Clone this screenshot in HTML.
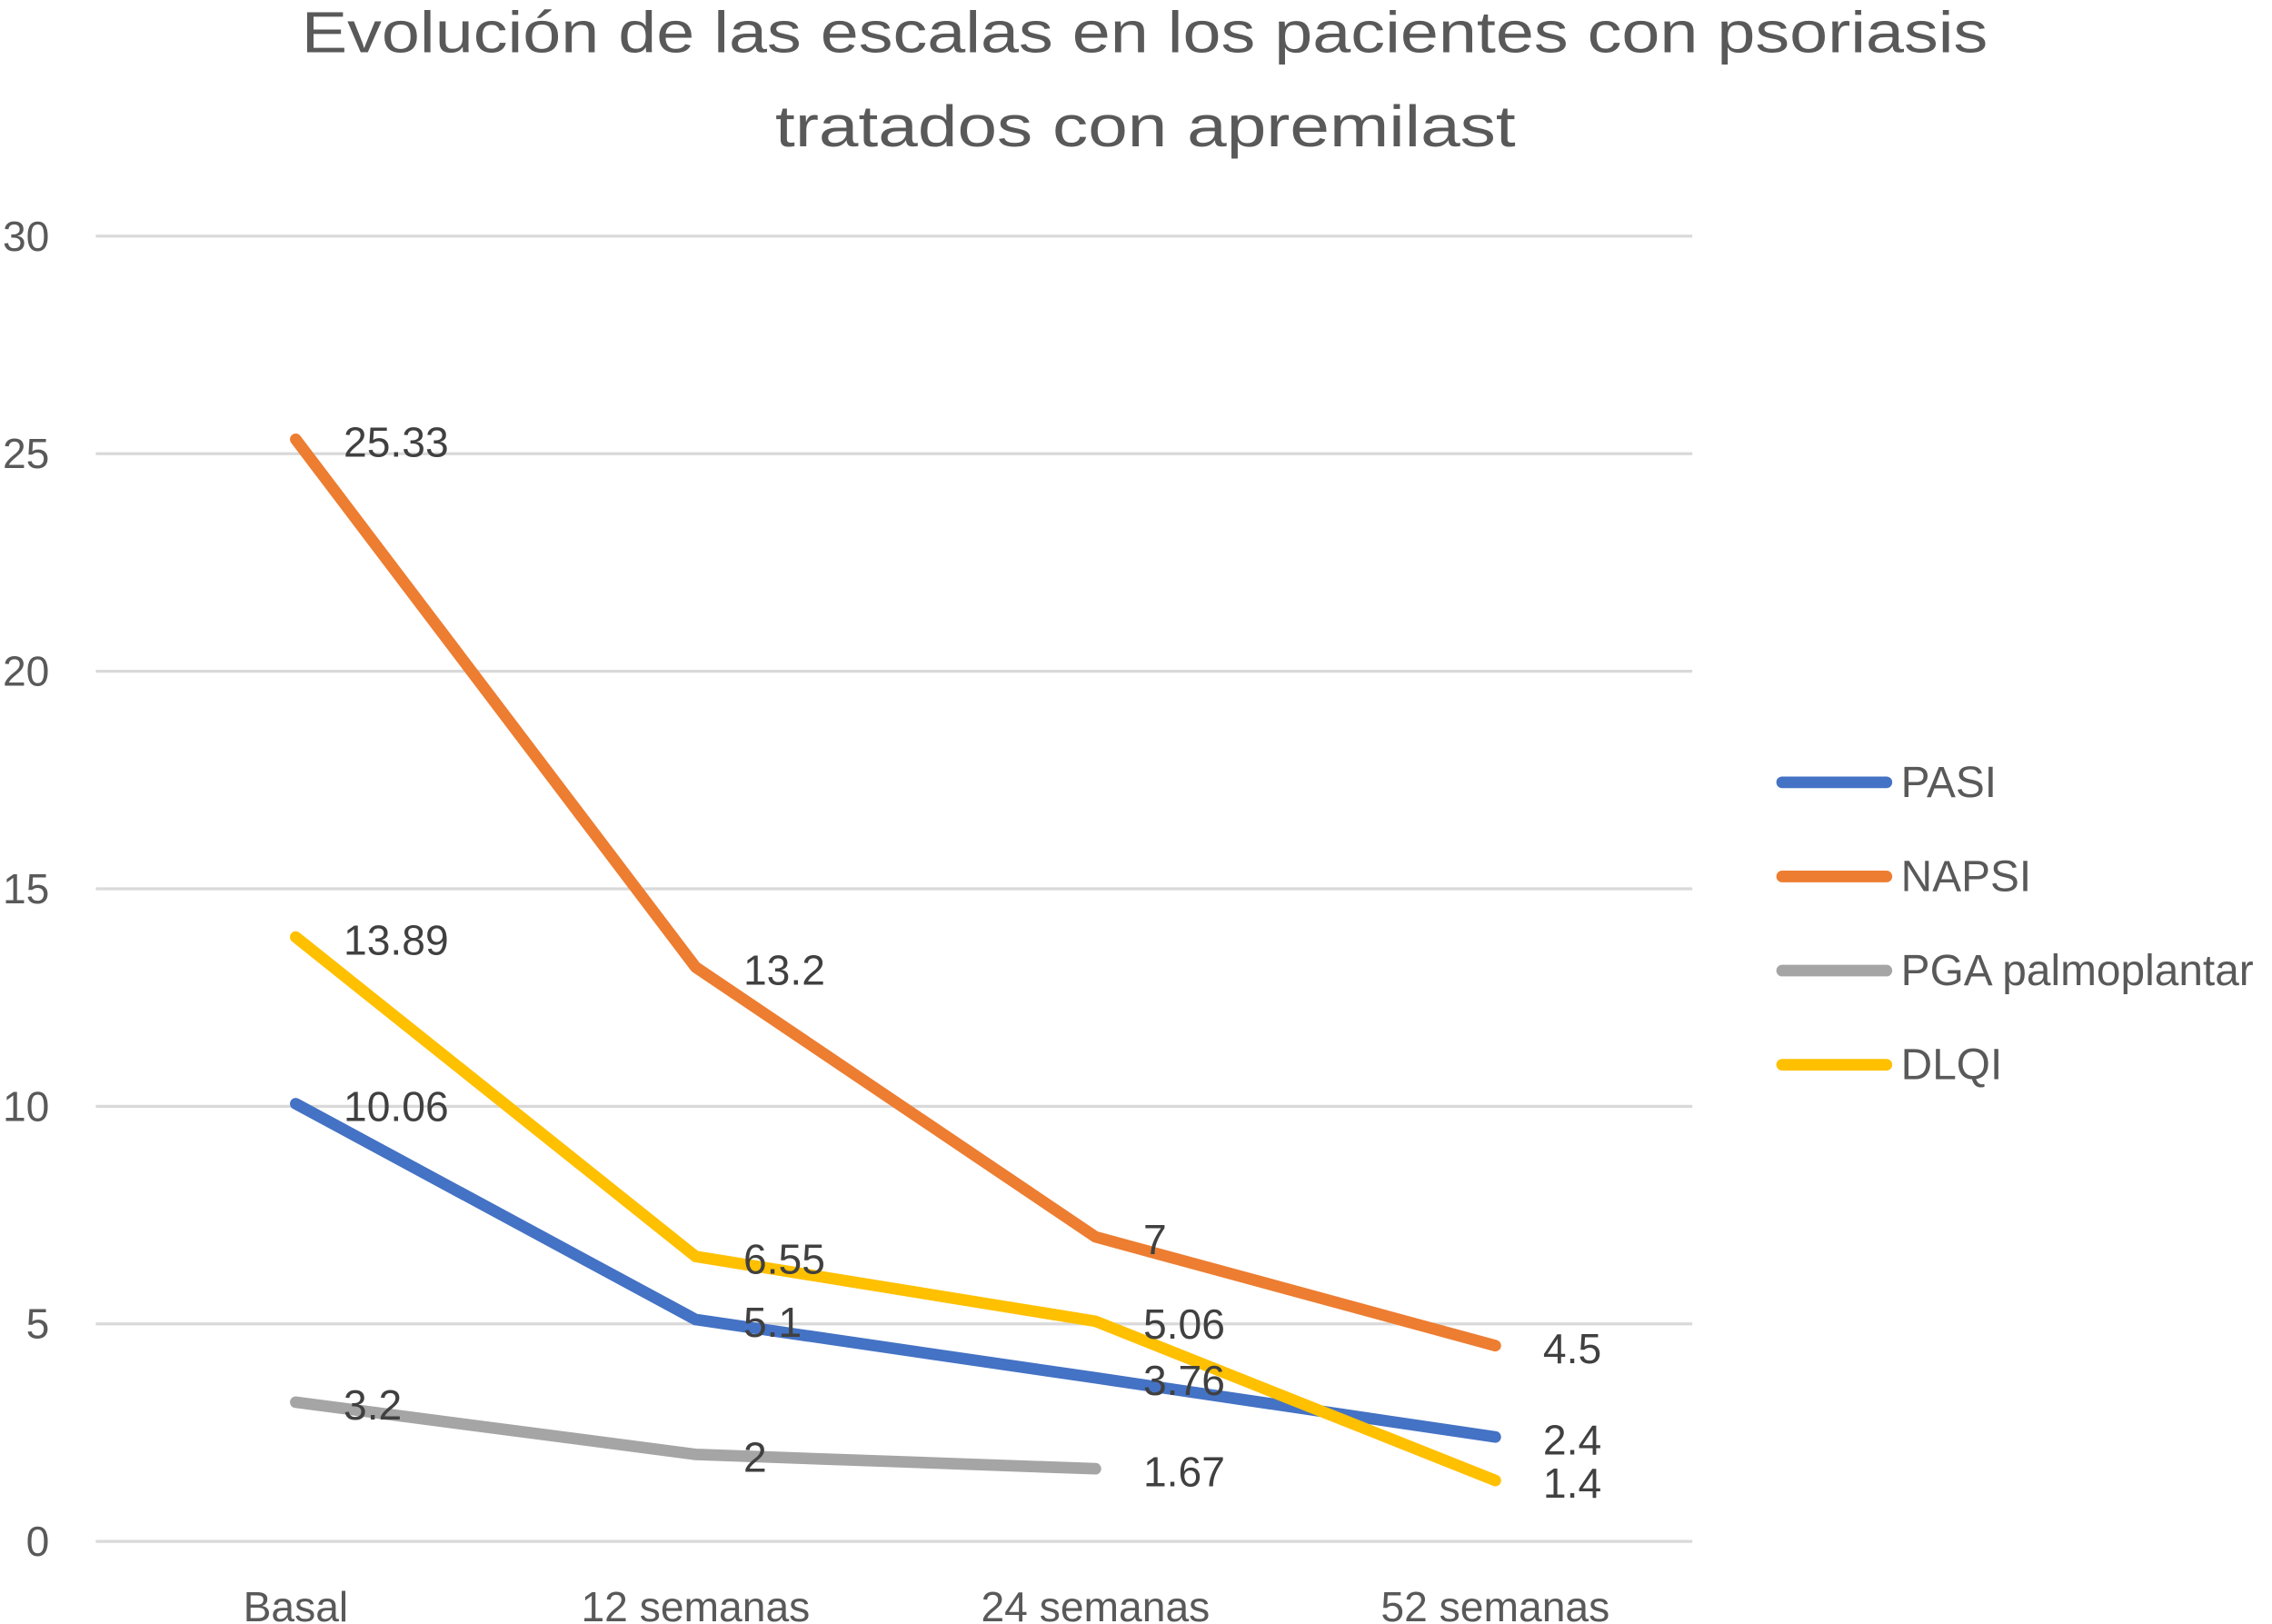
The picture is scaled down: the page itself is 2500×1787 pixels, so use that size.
<!DOCTYPE html>
<html><head><meta charset="utf-8"><style>
html,body{margin:0;padding:0;background:#fff}
svg{display:block;font-family:"Liberation Sans",sans-serif}
</style></head><body>
<svg id="chart" width="2500" height="1787" viewBox="0 0 1568 1121" xmlns="http://www.w3.org/2000/svg">
<g fill="#595959" font-size="40">
<text x="208" y="36" textLength="1164" lengthAdjust="spacingAndGlyphs">Evolución de las escalas en los pacientes con psoriasis</text>
<text x="535" y="101" textLength="511" lengthAdjust="spacingAndGlyphs">tratados con apremilast</text>
</g>
<g id="grid"></g><g id="series"></g><g id="legend"></g>
</svg>
<script>
const categories=["Basal","12 semanas","24 semanas","52 semanas"];
const yTicks=[0,5,10,15,20,25,30];
const seriesNames=["PASI","NAPSI","PGA palmoplantar","DLQI"];
const pasi=[10.06,5.1,3.76,2.4];
const napsi=[25.33,13.2,7,4.5];
const pga=[3.2,2,1.67,null];
const dlqi=[13.89,6.55,5.06,1.4];
const colors=["#4472C4","#ED7D31","#A5A5A5","#FFC000"];
const NS="http://www.w3.org/2000/svg";
const x=i=>204+i*276;
const y=v=>1064-v*(901/30);
function mk(t,a,p){const e=document.createElementNS(NS,t);for(const k in a)e.setAttribute(k,a[k]);p.appendChild(e);return e;}
const grid=document.getElementById('grid');
yTicks.forEach(v=>{
 const l=mk('line',{x1:66,x2:1168,y1:y(v),y2:y(v),stroke:'#d9d9d9','stroke-width':2},grid);
 
 
 const t=mk('text',{x:34,y:y(v)+10,'text-anchor':'end','font-size':29,fill:'#595959'},grid);
 t.textContent=v;
 
 
});
categories.forEach((c,i)=>{
 const t=mk('text',{x:x(i),y:1119,'text-anchor':'middle','font-size':29,fill:'#595959'},grid);
 t.textContent=c;
 
 
});
const data=[pasi,napsi,pga,dlqi];
const sg=document.getElementById('series');
data.forEach((d,s)=>{
 const pts=[];d.forEach((v,i)=>{if(v!==null)pts.push(x(i)+','+y(v));});
 const p=mk('polyline',{points:pts.join(' '),fill:'none',stroke:colors[s],'stroke-width':8,'stroke-linejoin':'round','stroke-linecap':'round'},sg);
 
 
});
data.forEach((d,s)=>{
 d.forEach((v,i)=>{if(v===null)return;
  const t=mk('text',{x:x(i)+33,y:y(v)+12,'font-size':29,fill:'#404040'},sg);
  t.textContent=v;
  
  
 });
});
const lg=document.getElementById('legend');
seriesNames.forEach((n,s)=>{
 const yy=540+s*65;
 const l=mk('line',{x1:1230,x2:1302,y1:yy,y2:yy,stroke:colors[s],'stroke-width':8,'stroke-linecap':'round'},lg);
 
 
 const t=mk('text',{x:1312,y:yy+10,'font-size':30,fill:'#595959'},lg);
 t.textContent=n;
 
 
});
</script>
</body></html>
